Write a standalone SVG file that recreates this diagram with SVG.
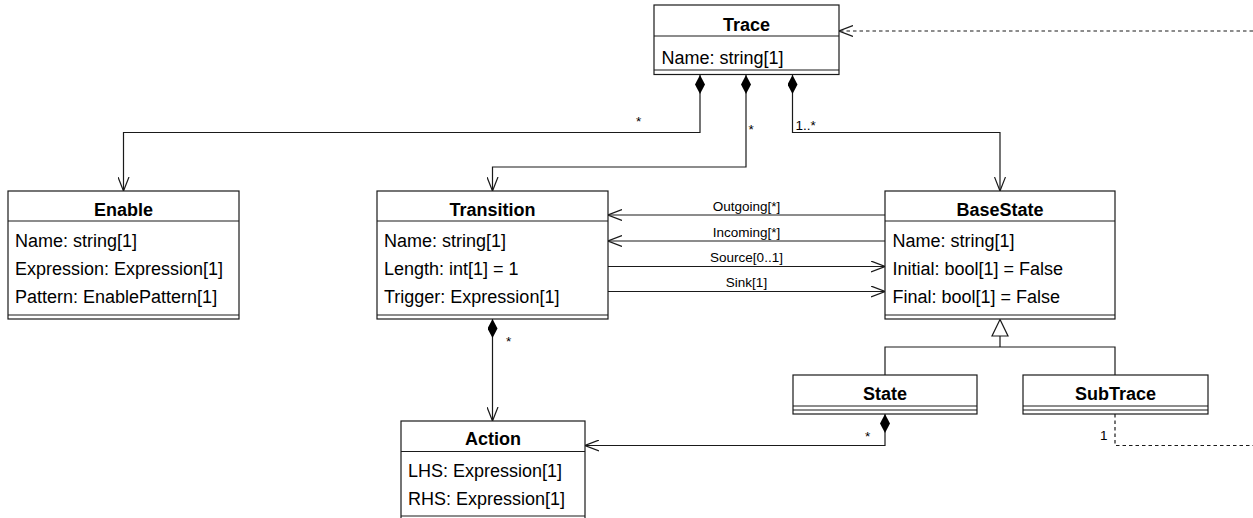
<svg xmlns="http://www.w3.org/2000/svg" width="1253" height="518" viewBox="0 0 1253 518">
  <style>
    .box{fill:#fff;stroke:#1a1a1a;stroke-width:1.2}
    .sep{fill:none;stroke:#1a1a1a;stroke-width:1.2}
    .edge{fill:none;stroke:#1a1a1a;stroke-width:1.2}
    .dash{stroke-dasharray:3.5 3}
    .hd{font-family:"Liberation Sans",Arial,sans-serif;font-size:18px;font-weight:bold;text-anchor:middle;fill:#000}
    .at{font-family:"Liberation Sans",Arial,sans-serif;font-size:18px;fill:#000}
    .lb{font-family:"Liberation Sans",Arial,sans-serif;font-size:13.5px;fill:#000}
    .mid{text-anchor:middle}
  </style>
  <defs>
    <marker id="open" viewBox="0 0 14 12" refX="14" refY="6" markerWidth="14" markerHeight="12" markerUnits="userSpaceOnUse" orient="auto">
      <path d="M0,0.5 L14,6 L0,11.5" fill="none" stroke="#1a1a1a" stroke-width="1.2"/>
    </marker>
    <marker id="diamond" viewBox="0 0 19 10" refX="0" refY="5" markerWidth="19" markerHeight="10" markerUnits="userSpaceOnUse" orient="auto">
      <path d="M0,5 L9.5,0 L19,5 L9.5,10 Z" fill="#000" stroke="none"/>
    </marker>
  </defs>

  <!-- associations and generalization -->
  <g id="connectors">
    <path class="edge" d="M700,75 V132.5 H123.5 V191" marker-start="url(#diamond)" marker-end="url(#open)"/>
    <path class="edge" d="M746,75 V167 H492.5 V191" marker-start="url(#diamond)" marker-end="url(#open)"/>
    <path class="edge" d="M792.5,75 V132.5 H1000 V191" marker-start="url(#diamond)" marker-end="url(#open)"/>
    <path class="edge" d="M885,215 H608" marker-end="url(#open)"/>
    <path class="edge" d="M885,241 H608" marker-end="url(#open)"/>
    <path class="edge" d="M608,266.5 H885" marker-end="url(#open)"/>
    <path class="edge" d="M608,291.5 H885" marker-end="url(#open)"/>
    <path class="edge" d="M885,375 V347 H1115 V375 M1000,347 V336"/>
    <polygon points="1000,319.5 992,336 1008,336" fill="#fff" stroke="#1a1a1a" stroke-width="1.2"/>
    <path class="edge" d="M492.5,319 V421" marker-start="url(#diamond)" marker-end="url(#open)"/>
    <path class="edge" d="M885,414 V445.5 H585" marker-start="url(#diamond)" marker-end="url(#open)"/>
    <path class="edge dash" d="M1115,414 V445.5 H1253"/>
    <path class="edge dash" d="M1253,31 H839" marker-end="url(#open)"/>

    <text class="lb" x="636" y="126">*</text>
    <text class="lb" x="748.5" y="134">*</text>
    <text class="lb" x="795.5" y="130">1..*</text>
    <text class="lb mid" x="746.5" y="210.5">Outgoing[*]</text>
    <text class="lb mid" x="746.5" y="236.5">Incoming[*]</text>
    <text class="lb mid" x="746.5" y="261.5">Source[0..1]</text>
    <text class="lb mid" x="746.5" y="286.5">Sink[1]</text>
    <text class="lb" x="506" y="345.5">*</text>
    <text class="lb" x="865" y="440.5">*</text>
    <text class="lb" x="1100" y="439.5">1</text>
  </g>

  <g id="Trace">
    <rect class="box" x="654" y="5" width="185" height="69.5"/>
    <path class="sep" d="M654,36 H839 M654,70 H839"/>
    <text class="hd" x="746.5" y="31">Trace</text>
    <text class="at" x="661.5" y="64">Name: string[1]</text>
  </g>

  <g id="Enable">
    <rect class="box" x="8" y="191" width="231" height="128"/>
    <path class="sep" d="M8,221 H239 M8,315 H239"/>
    <text class="hd" x="123.5" y="215.5">Enable</text>
    <text class="at" x="15" y="247">Name: string[1]</text>
    <text class="at" x="15" y="275">Expression: Expression[1]</text>
    <text class="at" x="15" y="303">Pattern: EnablePattern[1]</text>
  </g>

  <g id="Transition">
    <rect class="box" x="377" y="191" width="231" height="128"/>
    <path class="sep" d="M377,221 H608 M377,315 H608"/>
    <text class="hd" x="492.5" y="215.5">Transition</text>
    <text class="at" x="384" y="247">Name: string[1]</text>
    <text class="at" x="384" y="275">Length: int[1] = 1</text>
    <text class="at" x="384" y="303">Trigger: Expression[1]</text>
  </g>

  <g id="BaseState">
    <rect class="box" x="885" y="191" width="230" height="128"/>
    <path class="sep" d="M885,221 H1115 M885,315 H1115"/>
    <text class="hd" x="1000" y="215.5">BaseState</text>
    <text class="at" x="892.5" y="247">Name: string[1]</text>
    <text class="at" x="892.5" y="275">Initial: bool[1] = False</text>
    <text class="at" x="892.5" y="303">Final: bool[1] = False</text>
  </g>

  <g id="State">
    <rect class="box" x="793" y="375" width="184" height="39"/>
    <path class="sep" d="M793,406 H977 M793,410 H977"/>
    <text class="hd" x="885" y="400">State</text>
  </g>

  <g id="SubTrace">
    <rect class="box" x="1023" y="375" width="185" height="39"/>
    <path class="sep" d="M1023,406 H1208 M1023,410 H1208"/>
    <text class="hd" x="1115.5" y="400">SubTrace</text>
  </g>

  <g id="Action">
    <rect class="box" x="401" y="421" width="184" height="110"/>
    <path class="sep" d="M401,451.5 H585 M401,516 H585"/>
    <text class="hd" x="493" y="445">Action</text>
    <text class="at" x="408" y="476.5">LHS: Expression[1]</text>
    <text class="at" x="408" y="505">RHS: Expression[1]</text>
  </g>
</svg>
